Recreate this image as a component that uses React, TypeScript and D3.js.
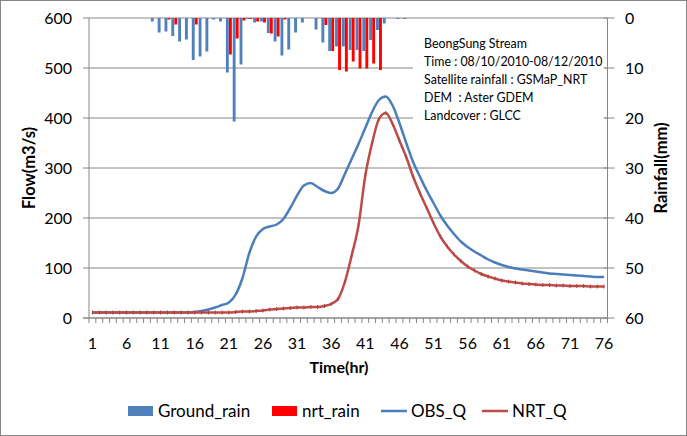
import React from "react";
import * as d3 from "d3";

const categories: number[] = Array.from({ length: 76 }, (_, i) => i + 1);

const groundRain: number[] = [
  0, 0, 0, 0, 0, 0, 0, 0, 0, 0.7,
  2.9, 2.7, 3.6, 4.7, 4.3, 8.4, 7.7, 6.7, 0.3, 0.7,
  10.9, 20.7, 9.3, 0.2, 0.9, 0.7, 3.0, 4.7, 7.5, 6.3,
  2.9, 0.9, 0, 2.3, 4.9, 6.6, 5.7, 5.7, 6.4, 6.4,
  6.6, 4.4, 2.4, 1.1, 0, 0.2, 0.2, 0, 0, 0,
  0, 0, 0, 0, 0, 0, 0, 0, 0, 0,
  0, 0, 0, 0, 0, 0, 0, 0, 0, 0,
  0, 0, 0, 0, 0, 0,
];

const nrtRain: number[] = [
  0, 0, 0, 0, 0, 0, 0, 0, 0, 0,
  0, 0.3, 1.3, 0, 0, 1.3, 0, 0, 0, 0,
  7.3, 4.1, 0.5, 0.2, 0.7, 0.9, 3.1, 3.7, 0.3, 0,
  0, 0, 0, 0, 1.4, 6.6, 10.4, 10.7, 8.7, 10.1,
  10.1, 9.1, 10.4, 0, 0, 0, 0, 0, 0, 0,
  0, 0, 0, 0, 0, 0, 0, 0, 0, 0,
  0, 0, 0, 0, 0, 0, 0, 0, 0, 0,
  0, 0, 0, 0, 0, 0,
];

const obsQ: number[] = [
  11, 11, 11, 11, 11, 11, 11, 11, 11, 11,
  11, 11, 11, 11, 11, 12, 14, 17, 21, 26,
  31, 47, 80, 130, 163, 178, 183, 187, 198, 220,
  245, 265, 270, 262, 254, 250, 259, 288, 318, 348,
  380, 412, 436, 443, 425, 390, 350, 312, 283, 255,
  230, 205, 185, 168, 153, 142, 133, 125, 117, 111,
  106, 102, 99, 97, 95, 93, 91, 89, 88, 87,
  86, 85, 84, 83, 82, 82,
];

const nrtQ: number[] = [
  11, 11, 11, 11, 11, 11, 11, 11, 11, 11,
  11, 11, 11, 11, 11, 11, 11, 11, 11, 11,
  11, 12, 13, 13, 14, 15, 17, 18, 19, 20,
  21, 21, 22, 22, 24, 28, 38, 72, 125, 185,
  285, 350, 398, 410, 388, 355, 322, 283, 250, 220,
  190, 163, 143, 127, 114, 103, 95, 88, 83, 79,
  75, 73, 71, 69, 68, 67, 66, 66, 65, 65,
  64, 64, 64, 63, 63, 63,
];

const xTickLabels: number[] = [1, 6, 11, 16, 21, 26, 31, 36, 41, 46, 51, 56, 61, 66, 71, 76];
const flowTicks: number[] = [0, 100, 200, 300, 400, 500, 600];
const rainTicks: number[] = [0, 10, 20, 30, 40, 50, 60];

const infoLines: string[] = [
  "BeongSung Stream",
  "Time : 08/10/2010-08/12/2010",
  "Satellite rainfall : GSMaP_NRT",
  "DEM  : Aster GDEM",
  "Landcover : GLCC",
];

const legendItems = [
  { label: "Ground_rain", kind: "rect", color: "#4F81BD" },
  { label: "nrt_rain", kind: "rect", color: "#FF0000" },
  { label: "OBS_Q", kind: "line", color: "#4A7EBB" },
  { label: "NRT_Q", kind: "line", color: "#BE4B48" },
];

const W = 687;
const H = 436;
const FONT = "Lato, 'Open Sans', sans-serif";

export default function App() {
  const left = 89;
  const right = 607.5;
  const top = 18;
  const bottom = 318;

  const x = d3.scaleBand<number>().domain(categories).range([left, right]).padding(0);
  const bw = x.bandwidth();
  const xSub = d3.scaleBand<string>().domain(["g", "n"]).range([0, bw]).paddingInner(0.05).paddingOuter(0.15);
  const yFlow = d3.scaleLinear().domain([0, 600]).range([bottom, top]);
  const yRain = d3.scaleLinear().domain([0, 60]).range([top, bottom]);

  const cx = (i: number) => (x(categories[i]) as number) + bw / 2;
  const lineGen = d3
    .line<number>()
    .x((_, i) => cx(i))
    .y((d) => yFlow(d))
    .curve(d3.curveMonotoneX);

  const boundaries = d3.range(categories.length + 1).map((i) => left + i * bw);

  const boxX = 413;
  const boxY = 28;
  const boxW = 192;
  const boxH = 98;

  const legendY = 411;
  const legendPos = [128, 272, 381, 482];

  return (
    <div style={{ position: "fixed", left: 0, top: 0 }}>
      <svg width={W} height={H} style={{ display: "block", background: "#fff" }} fontFamily={FONT}>
        <rect x={0.5} y={0.5} width={W - 1} height={H - 1} fill="#fff" stroke="#868686" />

        {flowTicks.map((t) => (
          <line key={"g" + t} x1={left} x2={right} y1={yFlow(t)} y2={yFlow(t)} stroke="#868686" strokeWidth={1} />
        ))}

        {groundRain.map((v, i) =>
          v > 0 ? (
            <rect
              key={"gr" + i}
              x={(x(categories[i]) as number) + (xSub("g") as number)}
              y={yRain(0)}
              width={xSub.bandwidth()}
              height={yRain(v) - yRain(0)}
              fill="#4F81BD"
            />
          ) : null
        )}
        {nrtRain.map((v, i) =>
          v > 0 ? (
            <rect
              key={"nr" + i}
              x={(x(categories[i]) as number) + (xSub("n") as number)}
              y={yRain(0)}
              width={xSub.bandwidth()}
              height={yRain(v) - yRain(0)}
              fill="#FF0000"
            />
          ) : null
        )}

        <rect x={boxX} y={boxY} width={boxW} height={boxH} fill="#fff" />
        {infoLines.map((s, i) => (
          <text key={"info" + i} x={boxX + 11} y={boxY + 20 + i * 18} fontSize={12.4} fill="#000" style={{ whiteSpace: "pre" }}>
            {s}
          </text>
        ))}

        <path d={lineGen(obsQ) || ""} fill="none" stroke="#4A7EBB" strokeWidth={2.5} strokeLinejoin="round" />
        <path d={lineGen(nrtQ) || ""} fill="none" stroke="#BE4B48" strokeWidth={2.5} strokeLinejoin="round" />
        {nrtQ.map((v, i) => (
          <line key={"m" + i} x1={cx(i)} x2={cx(i)} y1={yFlow(v) - 2} y2={yFlow(v) + 2} stroke="#A8403D" strokeWidth={1} />
        ))}

        <line x1={left} x2={left} y1={top} y2={bottom} stroke="#868686" />
        {flowTicks.map((t) => (
          <g key={"lt" + t}>
            <line x1={left - 6} x2={left} y1={yFlow(t)} y2={yFlow(t)} stroke="#868686" />
            <text x={72} y={yFlow(t)} dy="0.35em" textAnchor="end" fontSize={16} fill="#000">
              {t}
            </text>
          </g>
        ))}

        <line x1={right} x2={right} y1={top} y2={bottom} stroke="#868686" />
        {rainTicks.map((t) => (
          <g key={"rt" + t}>
            <line x1={right - 4} x2={right + 7} y1={yRain(t)} y2={yRain(t)} stroke="#868686" />
            <text x={625} y={yRain(t)} dy="0.35em" textAnchor="start" fontSize={16} fill="#000">
              {t}
            </text>
          </g>
        ))}

        <line x1={left - 6} x2={right} y1={bottom} y2={bottom} stroke="#868686" />
        {boundaries.map((bx, i) => (
          <line key={"xt" + i} x1={bx} x2={bx} y1={bottom} y2={bottom + 5} stroke="#868686" />
        ))}
        {xTickLabels.map((t) => (
          <text key={"xl" + t} x={(x(t) as number) + bw / 2} y={343} dy="0.35em" textAnchor="middle" fontSize={16} fill="#000">
            {t}
          </text>
        ))}

        <text x={339} y={367} dy="0.35em" textAnchor="middle" fontSize={16} fontWeight="bold" fill="#000">
          Time(hr)
        </text>
        <text transform={`translate(29,168) rotate(-90)`} textAnchor="middle" dy="0.35em" fontSize={16.5} fontWeight="bold" fill="#000">
          Flow(m3/s)
        </text>
        <text transform={`translate(661,168) rotate(-90)`} textAnchor="middle" dy="0.35em" fontSize={16.5} fontWeight="bold" fill="#000">
          Rainfall(mm)
        </text>

        {legendItems.map((it, i) => (
          <g key={"lg" + i}>
            {it.kind === "rect" ? (
              <rect x={legendPos[i]} y={legendY - 5} width={25} height={10} fill={it.color} />
            ) : (
              <line x1={legendPos[i]} x2={legendPos[i] + 26} y1={legendY} y2={legendY} stroke={it.color} strokeWidth={2.5} />
            )}
            <text x={legendPos[i] + 30} y={legendY} dy="0.35em" fontSize={17} fill="#000">
              {it.label}
            </text>
          </g>
        ))}
      </svg>
    </div>
  );
}
